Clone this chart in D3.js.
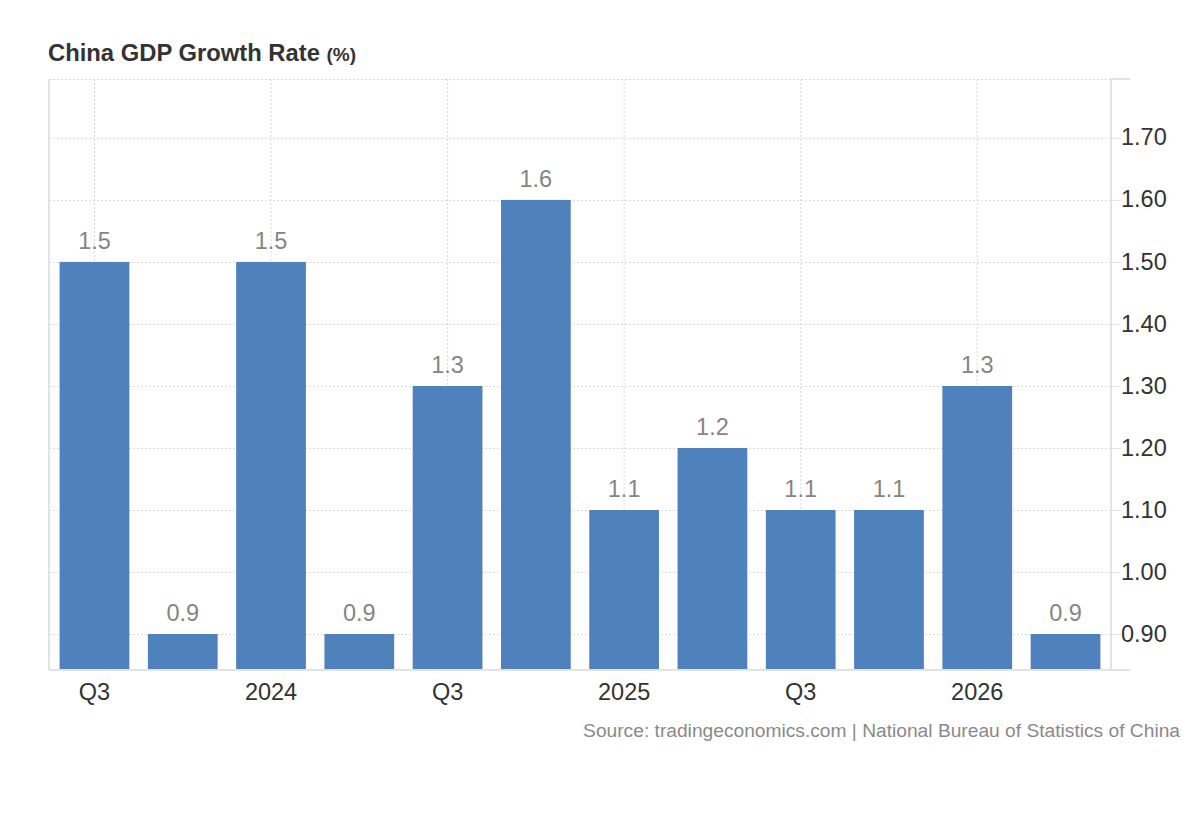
<!DOCTYPE html>
<html>
<head>
<meta charset="utf-8">
<script src="https://cdn.jsdelivr.net/npm/d3@7"></script>
<style>
  body { margin: 0; background: #fff; font-family: "Liberation Sans", Arial, sans-serif; }
  .grid line { stroke: #d9d9d9; stroke-width: 1; stroke-dasharray: 2,2; }
  .grid .domain { display: none; }
</style>
</head>
<body>
<div id="chart"></div>
<script>
// Quarterly GDP growth (QoQ, %)
const quarters = ["2023Q3", "2023Q4", "2024Q1", "2024Q2", "2024Q3", "2024Q4",
                  "2025Q1", "2025Q2", "2025Q3", "2025Q4", "2026Q1", "2026Q2"];
const growth = [1.5, 0.9, 1.5, 0.9, 1.3, 1.6, 1.1, 1.2, 1.1, 1.1, 1.3, 0.9];
const xTickQuarters = ["2023Q3", "2024Q1", "2024Q3", "2025Q1", "2025Q3", "2026Q1"];
const xTickLabels = ["Q3", "2024", "Q3", "2025", "Q3", "2026"];
const yTicks = [0.9, 1.0, 1.1, 1.2, 1.3, 1.4, 1.5, 1.6, 1.7];

const width = 1200, height = 820;
const plot = {left: 49, right: 1111, top: 79, bottom: 670};
const barColor = "#4f81bd";
const axisColor = "#e3e3e3";

const svg = d3.select("#chart").append("svg")
    .attr("width", width)
    .attr("height", height)
    .style("font-family", "'Liberation Sans', Arial, sans-serif");

const x = d3.scaleBand()
    .domain(quarters)
    .range([plot.left, plot.right])
    .paddingInner(0.21)
    .paddingOuter(0.12);

const y = d3.scaleLinear()
    .domain([0.842, 1.795])
    .range([plot.bottom, plot.top]);

// horizontal dotted grid
svg.append("g")
    .attr("class", "grid")
    .attr("transform", `translate(${plot.left},0)`)
    .call(d3.axisRight(y).tickValues(yTicks.concat([1.795])).tickSize(plot.right - plot.left).tickFormat(""));

// vertical dotted grid at labelled quarters
svg.append("g")
    .attr("class", "grid")
    .attr("transform", `translate(0,${plot.top})`)
    .call(d3.axisBottom(x).tickValues(xTickQuarters).tickSize(plot.bottom - plot.top).tickFormat(""));

// left border
svg.append("line")
    .attr("x1", plot.left).attr("x2", plot.left)
    .attr("y1", plot.top).attr("y2", plot.bottom)
    .attr("stroke", axisColor).attr("stroke-width", 2);

// bars
svg.selectAll(".bar")
    .data(growth)
    .enter()
    .append("rect")
    .attr("class", "bar")
    .attr("x", (d, i) => x(quarters[i]))
    .attr("y", d => y(d))
    .attr("width", x.bandwidth())
    .attr("height", d => y.range()[0] - y(d))
    .attr("fill", barColor);

// value labels
svg.selectAll(".bar-label")
    .data(growth)
    .enter()
    .append("text")
    .attr("class", "bar-label")
    .attr("x", (d, i) => x(quarters[i]) + x.bandwidth() / 2)
    .attr("y", d => y(d) - 13)
    .attr("text-anchor", "middle")
    .style("font-size", "23.5px")
    .style("fill", "#858585")
    .text(d => d3.format(".1f")(d));

// bottom axis line
svg.append("line")
    .attr("x1", plot.left).attr("x2", plot.right + 19)
    .attr("y1", plot.bottom).attr("y2", plot.bottom)
    .attr("stroke", axisColor).attr("stroke-width", 2);

// x-axis labels
const xAxis = svg.append("g")
    .attr("transform", `translate(0,${plot.bottom})`)
    .call(d3.axisBottom(x)
        .tickValues(xTickQuarters)
        .tickSize(0)
        .tickPadding(0)
        .tickFormat(q => xTickLabels[xTickQuarters.indexOf(q)]));
xAxis.select(".domain").remove();
xAxis.selectAll("text")
    .attr("y", 30)
    .attr("dy", 0)
    .style("font-size", "23.5px")
    .style("fill", "#333");

// right y-axis
const yAxis = svg.append("g")
    .attr("transform", `translate(${plot.right},0)`)
    .call(d3.axisRight(y)
        .tickValues(yTicks)
        .tickSize(10)
        .tickPadding(0)
        .tickFormat(d3.format(".2f")));
yAxis.select(".domain")
    .attr("stroke", axisColor)
    .attr("stroke-width", 2)
    .attr("d", `M19,${plot.top}H0V${plot.bottom}`);
yAxis.selectAll(".tick line").attr("stroke", axisColor);
yAxis.selectAll("text")
    .attr("x", 10)
    .attr("dy", "0.3em")
    .style("font-size", "23.5px")
    .style("fill", "#333");

// title
const title = svg.append("text")
    .attr("x", 48)
    .attr("y", 61)
    .style("font-weight", "bold")
    .style("fill", "#333");
title.append("tspan")
    .style("font-size", "23.8px")
    .text("China GDP Growth Rate ");
title.append("tspan")
    .style("font-size", "19px")
    .text("(%)");

// source
svg.append("text")
    .attr("x", 1180)
    .attr("y", 737)
    .attr("text-anchor", "end")
    .style("font-size", "19.2px")
    .style("fill", "#8a8a8a")
    .text("Source: tradingeconomics.com | National Bureau of Statistics of China");
</script>
</body>
</html>
